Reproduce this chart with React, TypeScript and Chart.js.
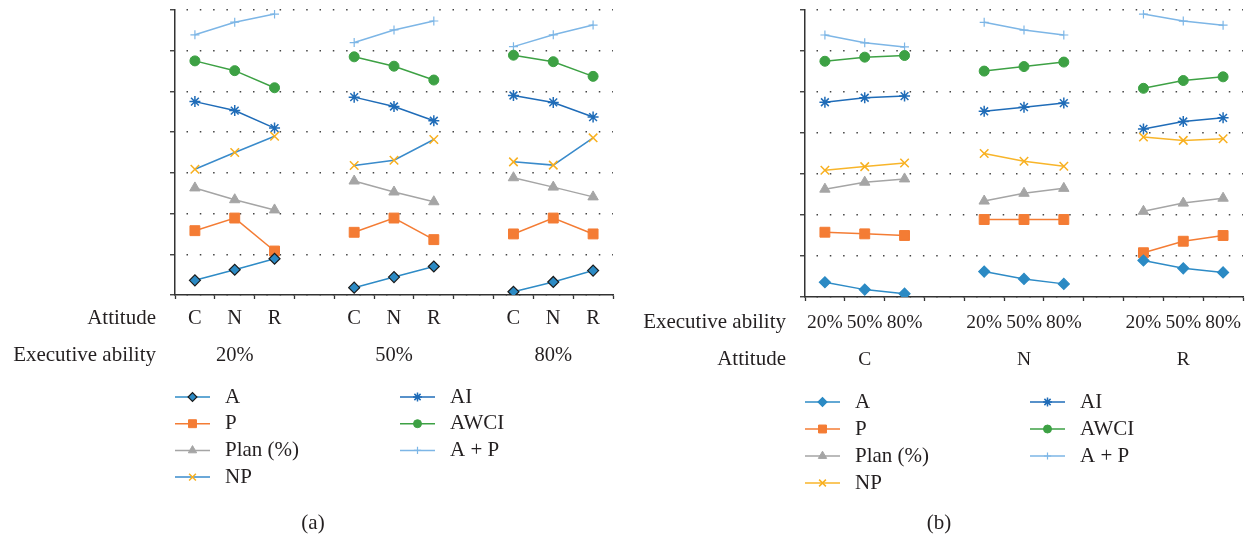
import React, { useEffect, useRef } from 'react';
import { Chart, registerables } from 'chart.js';
import { drawPoint } from 'chart.js/helpers';

Chart.register(...registerables);

// ---- Data (panel a order: executive ability 20%,50%,80%; attitude C,N,R within each) ----
const attitudes = ['C', 'N', 'R'];
const execLevels = ['20%', '50%', '80%'];
const seriesNames = ['A', 'P', 'Plan (%)', 'NP', 'AI', 'AWCI', 'A + P'];

const valA = [0.36, 0.62, 0.89, 0.18, 0.44, 0.70, 0.08, 0.32, 0.60];
const valP = [1.58, 1.89, 1.08, 1.54, 1.89, 1.36, 1.50, 1.89, 1.50];
const valPlan = [2.63, 2.34, 2.09, 2.80, 2.53, 2.29, 2.88, 2.65, 2.41];
const valNP = [3.09, 3.50, 3.90, 3.18, 3.31, 3.82, 3.27, 3.19, 3.86];
const valAI = [4.75, 4.53, 4.10, 4.86, 4.63, 4.28, 4.90, 4.73, 4.37];
const valAWCI = [5.75, 5.51, 5.09, 5.85, 5.62, 5.28, 5.89, 5.73, 5.37];
const valAP = [6.39, 6.70, 6.90, 6.20, 6.51, 6.73, 6.10, 6.39, 6.63];

const allValues = [valA, valP, valPlan, valNP, valAI, valAWCI, valAP];

const yMin = 0;
const yMax = 7;

const FONT = "'Liberation Serif', 'Times New Roman', serif";
const TEXT = '#231f20';

type SeriesStyle = {
  line: string;
  lineB: string;
  fill: string;
  border: string;
  borderB: string;
  style: string;
  r: number;
  bw: number;
};

const seriesStyles: SeriesStyle[] = [
  { line: '#2E8BC6', lineB: '#2E8BC6', fill: '#2B8AC4', border: '#1c1c1c', borderB: '#2B8AC4', style: 'rectRot', r: 5.5, bw: 1.2 },
  { line: '#F47C34', lineB: '#F47C34', fill: '#F47C34', border: '#F47C34', borderB: '#F47C34', style: 'rect', r: 7, bw: 1 },
  { line: '#A5A5A5', lineB: '#A5A5A5', fill: '#A5A5A5', border: '#A5A5A5', borderB: '#A5A5A5', style: 'triangle', r: 6, bw: 1 },
  { line: '#3A8BCB', lineB: '#F8B52A', fill: '#F8B52A', border: '#F8B020', borderB: '#F8B020', style: 'crossRot', r: 6, bw: 1.5 },
  { line: '#1F6CB8', lineB: '#1F6CB8', fill: '#1F6CB8', border: '#1F6CB8', borderB: '#1F6CB8', style: 'star', r: 5.5, bw: 1.5 },
  { line: '#3DA144', lineB: '#3DA144', fill: '#3DA144', border: '#3DA144', borderB: '#3DA144', style: 'circle', r: 5, bw: 1 },
  { line: '#7DB6E6', lineB: '#7DB6E6', fill: '#7DB6E6', border: '#7DB6E6', borderB: '#7DB6E6', style: 'cross', r: 4.5, bw: 1.2 },
];

type PanelKey = 'a' | 'b';

// slot layout: 3 groups of 3, separated by empty slots
function buildSlots(vals: number[], panel: PanelKey): (number | null)[] {
  const out: (number | null)[] = [];
  for (let g = 0; g < 3; g++) {
    for (let i = 0; i < 3; i++) {
      const idx = panel === 'a' ? g * 3 + i : i * 3 + g;
      out.push(vals[idx]);
    }
    if (g < 2) out.push(null);
  }
  return out;
}

function buildLabels(panel: PanelKey): string[][] {
  const row1 = panel === 'a' ? attitudes : execLevels;
  const row2 = panel === 'a' ? execLevels : attitudes;
  const out: string[][] = [];
  for (let g = 0; g < 3; g++) {
    for (let i = 0; i < 3; i++) out.push([row1[i], i === 1 ? row2[g] : '']);
    if (g < 2) out.push(['', '']);
  }
  return out;
}

const LINE_H = 37;
const FONT_SIZE = 21;

const panelCfg = {
  a: {
    padLeft: 170, padRight: 13, padTop: 10, axisBottom: 295, tickPad: 1, tickFont: 20.5,
    rowTitles: ['Attitude', 'Executive ability'], legendY: 397, legendStep: 26.7, caption: '(a)',
  },
  b: {
    padLeft: 174, padRight: 9, padTop: 10, axisBottom: 297, tickPad: 3, tickFont: 19.5,
    rowTitles: ['Executive ability', 'Attitude'], legendY: 402, legendStep: 27, caption: '(b)',
  },
};

const W = 626;
const H = 539;
const X_AXIS_H = 100;

function Panel({ panel, left }: { panel: PanelKey; left: number }) {
  const ref = useRef<HTMLCanvasElement | null>(null);
  useEffect(() => {
    const cfg = panelCfg[panel];
    const canvas = ref.current!;
    const datasets = allValues.map((vals, k) => {
      const s = seriesStyles[k];
      return {
        label: seriesNames[k],
        data: buildSlots(vals, panel),
        borderColor: panel === 'a' ? s.line : s.lineB,
        backgroundColor: s.fill,
        borderWidth: 1.5,
        pointStyle: s.style as any,
        pointRadius: s.r,
        pointHoverRadius: s.r,
        pointBackgroundColor: s.fill,
        pointBorderColor: panel === 'a' ? s.border : s.borderB,
        pointBorderWidth: s.bw,
        tension: 0,
        spanGaps: false,
      };
    });

    const overlay = {
      id: 'overlay',
      afterDraw(chart: any) {
        const ctx = chart.ctx as CanvasRenderingContext2D;
        const xs = chart.scales.x;
        const area = chart.chartArea;
        ctx.save();
        ctx.fillStyle = TEXT;
        ctx.font = `${FONT_SIZE}px ${FONT}`;
        ctx.textBaseline = 'middle';
        // row titles
        ctx.textAlign = 'right';
        const y0 = xs.top + 4 + cfg.tickPad;
        cfg.rowTitles.forEach((t, i) => {
          ctx.fillText(t, area.left - 19, y0 + LINE_H * (i + 0.5));
        });
        // legend
        ctx.textAlign = 'left';
        seriesNames.forEach((name, k) => {
          const s = seriesStyles[k];
          const col = k < 4 ? 0 : 1;
          const row = k < 4 ? k : k - 4;
          const lx = area.left + col * 225;
          const ly = cfg.legendY + row * cfg.legendStep;
          ctx.strokeStyle = panel === 'a' ? s.line : s.lineB;
          ctx.lineWidth = 1.5;
          ctx.beginPath();
          ctx.moveTo(lx, ly);
          ctx.lineTo(lx + 35, ly);
          ctx.stroke();
          ctx.fillStyle = s.fill;
          ctx.strokeStyle = panel === 'a' ? s.border : s.borderB;
          ctx.lineWidth = s.bw;
          drawPoint(ctx, { pointStyle: s.style as any, rotation: 0, radius: s.r * 0.8, borderWidth: s.bw }, lx + 17.5, ly);
          ctx.fillStyle = TEXT;
          ctx.fillText(name, lx + 50, ly);
        });
        // caption
        ctx.textAlign = 'center';
        ctx.fillText(cfg.caption, W / 2, 523);
        ctx.restore();
      },
    };

    const chart = new Chart(canvas, {
      type: 'line',
      data: { labels: buildLabels(panel) as any, datasets: datasets as any },
      options: {
        responsive: false,
        animation: false,
        devicePixelRatio: 1,
        layout: {
          padding: {
            left: cfg.padLeft,
            right: cfg.padRight,
            top: cfg.padTop,
            bottom: H - cfg.axisBottom - X_AXIS_H,
          },
        },
        plugins: {
          legend: { display: false },
          tooltip: { enabled: false },
          title: { display: false },
        },
        scales: {
          x: {
            type: 'category',
            offset: true,
            grid: {
              display: true,
              drawOnChartArea: false,
              drawTicks: true,
              tickLength: 4,
              offset: true,
              tickColor: '#333',
              tickWidth: 1.3,
            },
            border: { display: true, color: '#333', width: 1.5 },
            ticks: {
              autoSkip: false,
              maxRotation: 0,
              minRotation: 0,
              padding: cfg.tickPad,
              color: TEXT,
              font: { family: FONT, size: cfg.tickFont, lineHeight: LINE_H / cfg.tickFont },
            },
            afterFit: (s: any) => { s.height = X_AXIS_H; },
          },
          y: {
            min: yMin,
            max: yMax,
            grid: {
              display: true,
              drawTicks: true,
              tickLength: 5,
              color: '#444',
              lineWidth: 1.5,
              tickColor: '#333',
              tickWidth: 1.3,
              tickBorderDash: [],
            } as any,
            border: { display: true, color: '#333', width: 1.5, dash: [1.5, 11.8], dashOffset: -11 },
            ticks: { display: false, stepSize: 1 },
            afterFit: (s: any) => { s.width = 5; },
          },
        },
      },
      plugins: [overlay],
    });
    return () => chart.destroy();
  }, [panel]);

  return (
    <canvas
      ref={ref}
      width={W}
      height={H}
      style={{ position: 'absolute', left, top: 0, width: W, height: H, display: 'block' }}
    />
  );
}

export default function App() {
  return (
    <div style={{ position: 'absolute', left: 0, top: 0, width: 1252, height: 539, background: '#fff' }}>
      <Panel panel="a" left={0} />
      <Panel panel="b" left={626} />
    </div>
  );
}
